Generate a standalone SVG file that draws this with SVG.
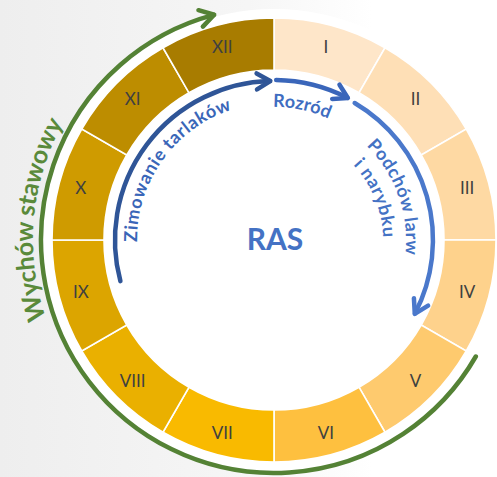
<svg xmlns="http://www.w3.org/2000/svg" width="497" height="477" viewBox="0 0 497 477">
<defs>
<linearGradient id="bg" x1="0" y1="0" x2="1" y2="0">
<stop offset="0" stop-color="#eeeeee"/>
<stop offset="0.5" stop-color="#f6f6f6"/>
<stop offset="0.75" stop-color="#ffffff"/>
</linearGradient>
<marker id="ahGreen" markerUnits="userSpaceOnUse" markerWidth="40" markerHeight="40" viewBox="-20 -20 40 40" refX="0" refY="0" orient="auto" overflow="visible">
<path d="M-13.5,-8.5 L0.5,0 L-13.5,8.5" fill="none" stroke="#548235" stroke-width="4.5" stroke-linecap="round" stroke-linejoin="round"/>
</marker>
<marker id="ahDark" markerUnits="userSpaceOnUse" markerWidth="40" markerHeight="40" viewBox="-20 -20 40 40" refX="0" refY="0" orient="auto" overflow="visible">
<path d="M-13,-8 L0.5,0 L-13,8" fill="none" stroke="#2f5597" stroke-width="4.5" stroke-linecap="round" stroke-linejoin="round"/>
</marker>
<marker id="ahMid" markerUnits="userSpaceOnUse" markerWidth="40" markerHeight="40" viewBox="-20 -20 40 40" refX="0" refY="0" orient="auto" overflow="visible">
<path d="M-13,-8 L0.5,0 L-13,8" fill="none" stroke="#3a66ba" stroke-width="4.5" stroke-linecap="round" stroke-linejoin="round"/>
</marker>
<marker id="ahLight" markerUnits="userSpaceOnUse" markerWidth="40" markerHeight="40" viewBox="-20 -20 40 40" refX="0" refY="0" orient="auto" overflow="visible">
<path d="M-13,-8 L0.5,0 L-13,8" fill="none" stroke="#4a78cb" stroke-width="4.5" stroke-linecap="round" stroke-linejoin="round"/>
</marker>
<path id="pZim" d="M137.1,244.8 A137 137 0 0 1 250.2,105.1"/>
<path id="pRoz" d="M250.9,109.0 A133 133 0 0 1 359.5,138.1"/>
<path id="pPod1" d="M358.8,138.9 A132 132 0 0 1 398.0,285.1"/>
<path id="pPod2" d="M344.1,156.5 A109 109 0 0 1 376.4,277.3"/>
<path id="pWych" d="M65.3,360.5 A241 241 0 0 1 89.4,85.1"/>
</defs>
<style>
.seg{stroke:#ffffff;stroke-width:1.6}
.num{font-family:Lato,"Liberation Sans",sans-serif;font-size:17px;fill:#404040;text-anchor:middle}
.arc{fill:none;stroke-width:4.5;stroke-linecap:round}
.lbl{font-family:Lato,"Liberation Sans",sans-serif;font-weight:bold;font-size:18px}
</style>
<rect x="0" y="0" width="497" height="477" fill="url(#bg)"/>
<circle cx="274" cy="240" r="231" fill="#ffffff"/>
<g id="months">
<g id="m1"><path class="seg" fill="#fee6c9" d="M274,18 A222 222 0 0 1 385,47.74 L359,92.78 A170 170 0 0 0 274,70 Z"/><text class="num" x="325.8" y="52.8">I</text></g>
<g id="m2"><path class="seg" fill="#fedfb6" d="M385,47.74 A222 222 0 0 1 466.26,129 L421.22,155 A170 170 0 0 0 359,92.78 Z"/><text class="num" x="415.4" y="104.6">II</text></g>
<g id="m3"><path class="seg" fill="#fed9a3" d="M466.26,129 A222 222 0 0 1 496,240 L444,240 A170 170 0 0 0 421.22,155 Z"/><text class="num" x="467.2" y="194.2">III</text></g>
<g id="m4"><path class="seg" fill="#fed28c" d="M496,240 A222 222 0 0 1 466.26,351 L421.22,325 A170 170 0 0 0 444,240 Z"/><text class="num" x="467.2" y="297.8">IV</text></g>
<g id="m5"><path class="seg" fill="#feca6e" d="M466.26,351 A222 222 0 0 1 385,432.26 L359,387.22 A170 170 0 0 0 421.22,325 Z"/><text class="num" x="415.4" y="387.4">V</text></g>
<g id="m6"><path class="seg" fill="#fec03f" d="M385,432.26 A222 222 0 0 1 274,462 L274,410 A170 170 0 0 0 359,387.22 Z"/><text class="num" x="325.8" y="439.2">VI</text></g>
<g id="m7"><path class="seg" fill="#f9ba00" d="M274,462 A222 222 0 0 1 163,432.26 L189,387.22 A170 170 0 0 0 274,410 Z"/><text class="num" x="222.2" y="439.2">VII</text></g>
<g id="m8"><path class="seg" fill="#eab000" d="M163,432.26 A222 222 0 0 1 81.74,351 L126.78,325 A170 170 0 0 0 189,387.22 Z"/><text class="num" x="132.6" y="387.4">VIII</text></g>
<g id="m9"><path class="seg" fill="#dca500" d="M81.74,351 A222 222 0 0 1 52,240 L104,240 A170 170 0 0 0 126.78,325 Z"/><text class="num" x="80.8" y="297.8">IX</text></g>
<g id="m10"><path class="seg" fill="#cf9b00" d="M52,240 A222 222 0 0 1 81.74,129 L126.78,155 A170 170 0 0 0 104,240 Z"/><text class="num" x="80.8" y="194.2">X</text></g>
<g id="m11"><path class="seg" fill="#bd8d00" d="M81.74,129 A222 222 0 0 1 163,47.74 L189,92.78 A170 170 0 0 0 126.78,155 Z"/><text class="num" x="132.6" y="104.6">XI</text></g>
<g id="m12"><path class="seg" fill="#a87c00" d="M163,47.74 A222 222 0 0 1 274,18 L274,70 A170 170 0 0 0 189,92.78 Z"/><text class="num" x="222.2" y="52.8">XII</text></g>
</g>
<g id="connectors">
<path id="cGreen" class="arc" stroke="#548235" d="M475.8,356.5 A233 233 0 1 1 213.7,14.9" marker-end="url(#ahGreen)"/>
<path id="cZim" class="arc" stroke="#2f5597" d="M120.4,281.2 A159 159 0 0 1 269.8,81.1" marker-end="url(#ahDark)"/>
<path id="cRoz" class="arc" stroke="#3a66ba" d="M276.2,80.0 A160 160 0 0 1 347.4,97.8" marker-end="url(#ahMid)"/>
<path id="cPod" class="arc" stroke="#4a78cb" d="M354.7,103.0 A159 159 0 0 1 415.0,313.4" marker-end="url(#ahLight)"/>
</g>
<g id="ras"><text x="275" y="250" font-family="Lato,'Liberation Sans',sans-serif" font-weight="bold" font-size="30" fill="#4472c4" text-anchor="middle">RAS</text></g>
<g id="zimowanie"><text class="lbl" fill="#3a66b8" font-size="18.5"><textPath href="#pZim" startOffset="2.9" textLength="174" lengthAdjust="spacing">Zimowanie tarlaków</textPath></text></g>
<g id="rozrod"><text class="lbl" fill="#3f6dc1"><textPath href="#pRoz" startOffset="22.3" textLength="57" lengthAdjust="spacing">Rozród</textPath></text></g>
<g id="podchow"><text class="lbl" fill="#4472c4"><textPath href="#pPod1" startOffset="10.4" textLength="119" lengthAdjust="spacing">Podchów larw</textPath></text><text class="lbl" fill="#4472c4"><textPath href="#pPod2" startOffset="12.4" textLength="80" lengthAdjust="spacing">i narybku</textPath></text></g>
<g id="wychow"><text font-family="Lato,'Liberation Sans',sans-serif" font-weight="bold" font-size="25" fill="#5a8a3a"><textPath href="#pWych" startOffset="46.3" textLength="202" lengthAdjust="spacing">Wychów stawowy</textPath></text></g>
</svg>
